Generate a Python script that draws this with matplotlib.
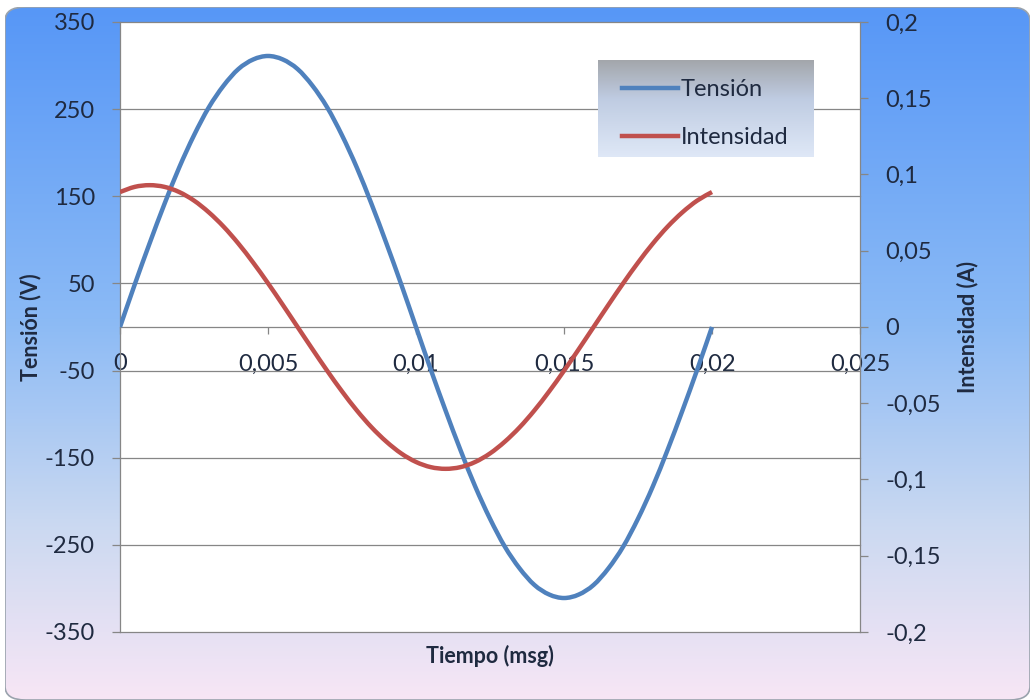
import numpy as np
import matplotlib.pyplot as plt
from matplotlib.colors import LinearSegmentedColormap
from matplotlib.patches import FancyBboxPatch, PathPatch
from matplotlib.path import Path
from matplotlib.lines import Line2D
from matplotlib.ticker import FuncFormatter

plt.rcParams['font.family'] = ['Lato', 'DejaVu Sans']
plt.rcParams['axes.unicode_minus'] = False

# data (t in s, V in volts, I in amps)
tiempo = [0.0, 0.0005, 0.001, 0.0015, 0.002, 0.0025, 0.003, 0.0035, 0.004, 0.0045,
          0.005, 0.0055, 0.006, 0.0065, 0.007, 0.0075, 0.008, 0.0085, 0.009, 0.0095,
          0.01, 0.0105, 0.011, 0.0115, 0.012, 0.0125, 0.013, 0.0135, 0.014, 0.0145,
          0.015, 0.0155, 0.016, 0.0165, 0.017, 0.0175, 0.018, 0.0185, 0.019, 0.0195,
          0.02]
tension = [0, 49, 96, 141, 183, 220, 252, 277, 296, 307,
           311, 307, 296, 277, 252, 220, 183, 141, 96, 49,
           0, -49, -96, -141, -183, -220, -252, -277, -296, -307,
           -311, -307, -296, -277, -252, -220, -183, -141, -96, -49,
           0]
intensidad = [0.0885, 0.0919, 0.093, 0.0919, 0.0885, 0.0829, 0.0752, 0.0658, 0.0547, 0.0422,
              0.0287, 0.0145, 0.0, -0.0145, -0.0287, -0.0422, -0.0547, -0.0658, -0.0752, -0.0829,
              -0.0885, -0.0919, -0.093, -0.0919, -0.0885, -0.0829, -0.0752, -0.0658, -0.0547, -0.0422,
              -0.0287, -0.0145, 0.0, 0.0145, 0.0287, 0.0422, 0.0547, 0.0658, 0.0752, 0.0829,
              0.0885]

x_ticks = [0, 0.005, 0.01, 0.015, 0.02, 0.025]
v_ticks = [-350, -250, -150, -50, 50, 150, 250, 350]
i_ticks = [-0.2, -0.15, -0.1, -0.05, 0, 0.05, 0.1, 0.15, 0.2]

W, H = 1030, 700
txt_col = '#1f2a40'
grid_col = '#868686'
azul = '#4f81bd'
rojo = '#c0504d'
fs = 17
lw = 3.2


def fx(px):
    return px / W


def fy(py):
    return 1 - py / H


def coma(v, pos=None):
    return f'{v:g}'.replace('.', ',')


def smooth_path(xs, ys):
    # Excel style smoothed line: Catmull-Rom through the points as cubic Beziers
    p = np.column_stack([xs, ys]).astype(float)
    ext = np.vstack([p[0], p, p[-1]])
    verts = [p[0]]
    codes = [Path.MOVETO]
    for i in range(1, len(ext) - 2):
        p0, p1, p2, p3 = ext[i - 1], ext[i], ext[i + 1], ext[i + 2]
        verts += [p1 + (p2 - p0) / 6, p2 - (p3 - p1) / 6, p2]
        codes += [Path.CURVE4] * 3
    return Path(verts, codes)


fig = plt.figure(figsize=(10.3, 7), dpi=100, facecolor='white')

# gradient background of the chart area
bg = fig.add_axes([fx(5), 0, 1 - fx(5), fy(7)])
bg.set_axis_off()
grad = np.linspace(0, 1, 256).reshape(-1, 1)
cmap_bg = LinearSegmentedColormap.from_list(
    'bg', [(0, '#5797f7'), (0.45, '#8bbaf5'), (0.75, '#cbd9f1'), (1, '#f7e6f5')])
im = bg.imshow(grad, aspect='auto', cmap=cmap_bg, extent=[0, 1, 0, 1], origin='upper')
bg.set_xlim(0, 1)
bg.set_ylim(0, 1)
frame = FancyBboxPatch((0, 0), 1, 1, boxstyle='round,pad=0,rounding_size=0.02',
                       transform=bg.transAxes, fc='none', ec='#9aa3ad', lw=1.2)
bg.add_patch(frame)
im.set_clip_path(frame)

# main plot
ax = fig.add_axes([fx(120), fy(632), (860 - 120) / W, (632 - 22) / H])
ax.set_facecolor('white')
ax.add_patch(PathPatch(smooth_path(tiempo, tension), fill=False, ec=azul, lw=lw,
                       capstyle='butt', zorder=3))
ax.set_xlim(0, 0.025)
ax.set_ylim(-350, 350)
ax.set_yticks(v_ticks)
ax.set_xticks(x_ticks)
ax.xaxis.set_major_formatter(FuncFormatter(coma))
ax.yaxis.grid(True, color=grid_col, lw=0.9)
for gl in ax.get_ygridlines():
    gl.set_clip_on(False)
ax.set_axisbelow(True)
ax.spines['top'].set_visible(False)
ax.spines['right'].set_visible(False)
ax.spines['bottom'].set_position(('data', 0))
for s in ('left', 'bottom'):
    ax.spines[s].set_color(grid_col)
    ax.spines[s].set_linewidth(0.9)
ax.tick_params(axis='y', direction='out', length=6, width=0.9, color=grid_col,
               pad=12, labelsize=fs, labelcolor=txt_col)
ax.tick_params(axis='x', direction='out', length=5, width=0.9, color=grid_col,
               pad=14, labelsize=fs, labelcolor=txt_col)
ax.set_ylabel('Tensión (V)', fontweight='bold', fontsize=15.5, color=txt_col)
ax.yaxis.set_label_coords(-0.106, 0.5)
ax.set_xlabel('Tiempo (msg)', fontweight='bold', fontsize=15.5, color=txt_col)
ax.xaxis.set_label_coords(0.5, -0.022)

ax2 = ax.twinx()
ax2.add_patch(PathPatch(smooth_path(tiempo, intensidad), fill=False, ec=rojo, lw=lw,
                        capstyle='butt', zorder=3))
ax2.set_ylim(-0.2, 0.2)
ax2.set_yticks(i_ticks)
ax2.yaxis.set_major_formatter(FuncFormatter(coma))
for s in ('left', 'top', 'bottom'):
    ax2.spines[s].set_visible(False)
ax2.spines['right'].set_color(grid_col)
ax2.spines['right'].set_linewidth(0.9)
ax2.tick_params(axis='y', direction='out', length=6, width=0.9, color=grid_col,
                pad=12, labelsize=fs, labelcolor=txt_col)
ax2.set_ylabel('Intensidad (A)', fontweight='bold', fontsize=15.5, color=txt_col)
ax2.yaxis.set_label_coords(1.13, 0.5)

# legend with its own gradient box
lg = fig.add_axes([fx(598), fy(157), 216 / W, 97 / H])
lg.set_axis_off()
cmap_lg = LinearSegmentedColormap.from_list(
    'lg', [(0, '#a3a6ab'), (0.4, '#bfcce2'), (1, '#dfe8f7')])
lg.imshow(grad, aspect='auto', cmap=cmap_lg, extent=[0, 1, 0, 1], origin='upper')
lg.set_xlim(0, 1)
lg.set_ylim(0, 1)
handles = [Line2D([], [], color=azul, lw=lw), Line2D([], [], color=rojo, lw=lw)]
leg = lg.legend(handles, ['Tensión', 'Intensidad'], loc='center left',
                bbox_to_anchor=(0, 0.45), frameon=False,
                fontsize=fs, handlelength=2.4, handletextpad=0.1, labelspacing=1.15,
                borderaxespad=0.6)
for t in leg.get_texts():
    t.set_color(txt_col)

fig.savefig('out.png', dpi=100, facecolor=fig.get_facecolor())
